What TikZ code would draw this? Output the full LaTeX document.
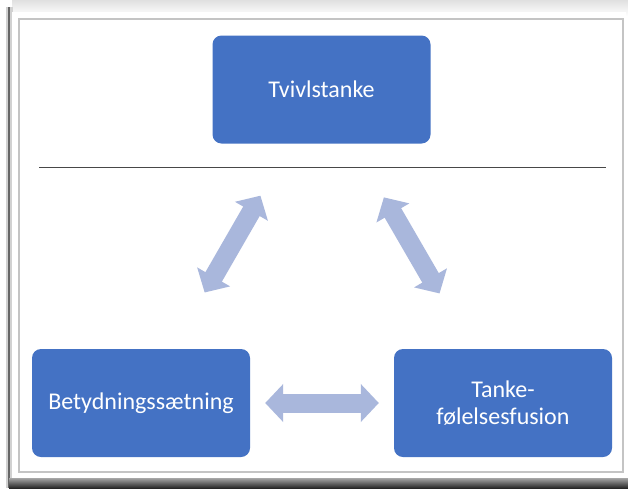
\documentclass[tikz,border=0pt]{standalone}
\usepackage{fontspec}
\setmainfont{Carlito}
\usepackage{xcolor}
\usepackage{tikz}
\usetikzlibrary{arrows.meta}
\definecolor{boxblue}{HTML}{4472C4}
\definecolor{linkblue}{HTML}{A9B7DC}
\definecolor{framegray}{HTML}{C4C4C4}
\tikzset{
  thought/.style={
    rectangle,
    rounded corners=9pt,
    fill=boxblue,
    draw=none,
    text=white,
    align=center,
    font=\fontsize{24}{27}\selectfont,
    minimum width=218pt,
    minimum height=108pt,
    inner sep=0pt
  },
  link/.style={
    draw=linkblue,
    line width=19pt,
    {Triangle[width=37pt,length=18pt]}-{Triangle[width=37pt,length=18pt]}
  },
  divider/.style={draw=black!72, line width=0.8pt}
}

\begin{document}
\begin{tikzpicture}[x=1pt,y=-1pt]
\useasboundingbox (0,0) rectangle (628,488);
\fill[white] (0,0) rectangle (628,488);

% photo frame and its shadow
\shade[top color=black!12, bottom color=white] (12,0) rectangle (628,16);
\draw[black!18, line width=7pt] (9,7) -- (9,488);
\draw[black!60, line width=2.5pt] (9,7) -- (9,488);
\shade[top color=black!35, bottom color=black!85] (9,478) rectangle (628,488);
\fill[white] (12,12) rectangle (626,478);
\draw[framegray, line width=2pt] (19,19) rectangle (623,472);

\node[thought] (tvivl) at (321.5,89.5) {Tvivlstanke};
\node[thought] (betyd) at (141,403) {Betydningssætning};
\node[thought] (fusion) at (503,403) {Tanke-\\følelsesfusion};

\draw[divider] (39,167) -- (606,167);

\draw[link, shorten <=60pt, shorten >=65pt] (tvivl) -- (betyd);
\draw[link, shorten <=62pt, shorten >=64pt] (tvivl) -- (fusion);
\draw[link, shorten <=15pt, shorten >=15pt] (betyd) -- (fusion);

\end{tikzpicture}
\end{document}
